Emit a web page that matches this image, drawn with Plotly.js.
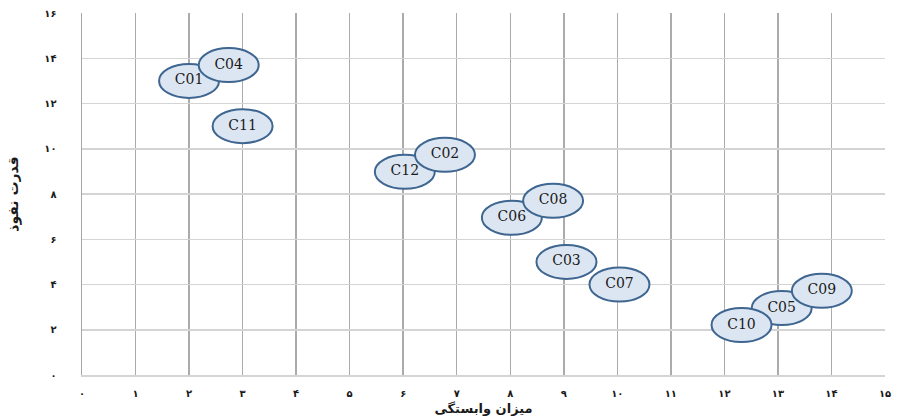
<!DOCTYPE html>
<html>
<head>
<meta charset="utf-8">
<script src="https://cdn.plot.ly/plotly-3.0.1.min.js"></script>
<style>html,body{margin:0;padding:0;background:#fff;}#chart{width:902px;height:417px;}</style>
</head>
<body>
<div id="chart"></div>
<script>
// Drawing order: later items lie on top
var labels = ['C05','C09','C10','C01','C04','C11','C12','C02','C06','C08','C03','C07'];
var dependence = [13.07,13.82,12.32,2.0,2.74,3.0,6.03,6.78,8.03,8.8,9.05,10.04];
var influence  = [2.96,3.72,2.21,13.0,13.7,11.0,8.98,9.73,6.95,7.7,5.0,4.0];

var xTickVals = [0,1,2,3,4,5,6,7,8,9,10,11,12,13,14,15];
var xTickText = ['۰','۱','۲','۳','۴','۵','۶','۷','۸','۹','۱۰','۱۱','۱۲','۱۳','۱۴','۱۵'];
var yTickVals = [0,2,4,6,8,10,12,14,16];
var yTickText = ['۰','۲','۴','۶','۸','۱۰','۱۲','۱۴','۱۶'];

var xTitle = 'میزان وابستگی';
var yTitle = 'قدرت نفوذ';

var shapes = labels.map(function(l, i){
  return {
    type:'circle', xref:'x', yref:'y', layer:'between',
    xsizemode:'pixel', ysizemode:'pixel',
    xanchor: dependence[i], yanchor: influence[i],
    x0:-30, x1:30, y0:-17, y1:17,
    fillcolor:'#dce6f2', line:{color:'#3e6690', width:2}
  };
});

var trace = {
  type:'scatter', mode:'text',
  x: dependence, y: influence, text: labels,
  textposition:'middle center',
  textfont:{family:'DejaVu Serif, Liberation Serif, serif', size:14, color:'#1a1a1a'},
  hoverinfo:'none', showlegend:false
};

var layout = {
  width:902, height:417,
  margin:{l:82, r:17, t:13, b:42},
  paper_bgcolor:'#ffffff', plot_bgcolor:'#ffffff',
  showlegend:false,
  shapes: shapes,
  xaxis:{
    range:[0,15], tickvals:xTickVals, ticktext:xTickText,
    showgrid:true, gridcolor:'#ababab', gridwidth:1.5,
    showline:true, linecolor:'#d4d4d4', linewidth:1.5, mirror:false,
    zeroline:false, ticks:'', ticklabelstandoff:8,
    tickfont:{family:'DejaVu Sans', size:10, color:'#1a1a1a', weight:'bold'},
    title:{text:xTitle, standoff:6, font:{family:'DejaVu Sans', size:13, color:'#1a1a1a', weight:'bold'}}
  },
  yaxis:{
    range:[0,16], tickvals:yTickVals, ticktext:yTickText,
    showgrid:true, gridcolor:'#d4d4d4', gridwidth:1.5,
    showline:true, linecolor:'#a6a6a6', linewidth:1.5,
    zeroline:false, ticks:'', ticklabelstandoff:22,
    tickfont:{family:'DejaVu Sans', size:10, color:'#1a1a1a', weight:'bold'},
    title:{text:yTitle, standoff:22, font:{family:'DejaVu Sans', size:14, color:'#1a1a1a', weight:'bold'}}
  }
};

Plotly.newPlot('chart', [trace], layout, {staticPlot:true, displayModeBar:false});
</script>
</body>
</html>
